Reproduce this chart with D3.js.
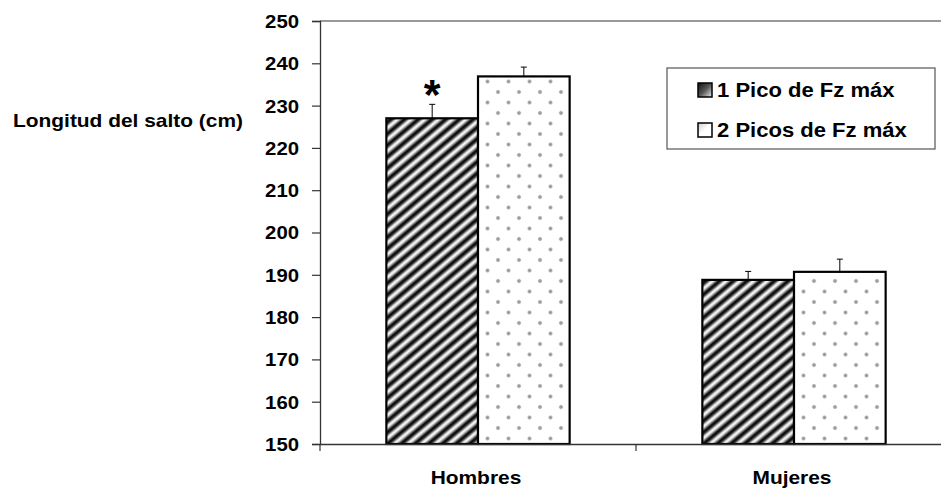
<!DOCTYPE html>
<html>
<head>
<meta charset="utf-8">
<script src="https://cdn.jsdelivr.net/npm/d3@7"></script>
<style>
  html, body { margin: 0; padding: 0; background: #fff; }
  svg text { font-family: Arial, "Liberation Sans", sans-serif; font-weight: bold; fill: #000; }
</style>
</head>
<body>
<svg id="chart" width="941" height="489"></svg>
<script>
// ---- data ----
const categories = ["Hombres", "Mujeres"];
const seriesNames = ["1 Pico de Fz máx", "2 Picos de Fz máx"];
const pico1 = [227.0, 188.8];
const pico1Err = [3.3, 2.0];
const pico2 = [236.9, 190.7];
const pico2Err = [2.2, 3.0];
const yTicks = [150, 160, 170, 180, 190, 200, 210, 220, 230, 240, 250];
const yLabel = "Longitud del salto (cm)";
const significant = [true, false]; // asterisk over pico1

// ---- layout ----
const svg = d3.select("#chart");
const W = 941, H = 489;
const pLeft = 320, pRight = 952, pTop = 21, pBottom = 444;
const STRETCH = 1.13;

function stretch(sel) {
  sel.each(function () {
    const w = this.getComputedTextLength();
    this.setAttribute("textLength", w * STRETCH);
    this.setAttribute("lengthAdjust", "spacingAndGlyphs");
  });
  return sel;
}

const y = d3.scaleLinear().domain([150, 250]).range([pBottom, pTop]);
const x = d3.scaleBand().domain(categories).range([pLeft, pRight]).padding(0);
const x1 = d3.scaleBand().domain(seriesNames)
  .range([x.bandwidth() * 0.21, x.bandwidth() * 0.79]).padding(0);

// ---- patterns ----
const defs = svg.append("defs");
const lg = defs.append("linearGradient").attr("id", "stripeGrad")
  .attr("x1", "0").attr("y1", "0").attr("x2", "1").attr("y2", "0");
lg.append("stop").attr("offset", "0").attr("stop-color", "#fff");
lg.append("stop").attr("offset", "0.12").attr("stop-color", "#f6f6f6");
lg.append("stop").attr("offset", "0.5").attr("stop-color", "#0a0a0a");
lg.append("stop").attr("offset", "0.68").attr("stop-color", "#1a1a1a");
lg.append("stop").attr("offset", "1").attr("stop-color", "#fff");
const hatch = defs.append("pattern").attr("id", "hatch")
  .attr("patternUnits", "userSpaceOnUse").attr("width", 8.8).attr("height", 20)
  .attr("patternTransform", "rotate(50)");
hatch.append("rect").attr("width", 8.8).attr("height", 20).attr("fill", "url(#stripeGrad)");

const rg = defs.append("radialGradient").attr("id", "dotGrad");
rg.append("stop").attr("offset", "0").attr("stop-color", "#8c8c8c");
rg.append("stop").attr("offset", "0.5").attr("stop-color", "#b0b0b0");
rg.append("stop").attr("offset", "1").attr("stop-color", "#fff").attr("stop-opacity", 0);
const dots = defs.append("pattern").attr("id", "dots")
  .attr("patternUnits", "userSpaceOnUse").attr("width", 21).attr("height", 21)
  .attr("x", 0).attr("y", 0);
dots.append("rect").attr("width", 21).attr("height", 21).attr("fill", "#fff");
dots.append("circle").attr("cx", 10).attr("cy", 8).attr("r", 3).attr("fill", "url(#dotGrad)");
dots.append("circle").attr("cx", 20.5).attr("cy", 18.5).attr("r", 3).attr("fill", "url(#dotGrad)");
dots.append("circle").attr("cx", -0.5).attr("cy", 18.5).attr("r", 3).attr("fill", "url(#dotGrad)");

const legG = defs.append("linearGradient").attr("id", "legHatch")
  .attr("x1", "0").attr("y1", "0").attr("x2", "1").attr("y2", "1");
legG.append("stop").attr("offset", "0").attr("stop-color", "#111");
legG.append("stop").attr("offset", "0.5").attr("stop-color", "#555");
legG.append("stop").attr("offset", "1").attr("stop-color", "#eee");
const legD = defs.append("linearGradient").attr("id", "legDots")
  .attr("x1", "0").attr("y1", "0").attr("x2", "1").attr("y2", "1");
legD.append("stop").attr("offset", "0").attr("stop-color", "#ccc");
legD.append("stop").attr("offset", "0.5").attr("stop-color", "#fff");
legD.append("stop").attr("offset", "1").attr("stop-color", "#fff");

const fills = ["url(#hatch)", "url(#dots)"];
const legFills = ["url(#legHatch)", "url(#legDots)"];

// ---- frame ----
svg.append("line").attr("x1", pLeft).attr("x2", W).attr("y1", pTop).attr("y2", pTop)
  .attr("stroke", "#777").attr("stroke-width", 1.5);

// ---- bars ----
const rows = categories.map((c, i) => ({
  cat: c,
  vals: [
    { s: seriesNames[0], v: pico1[i], e: pico1Err[i], sig: significant[i] },
    { s: seriesNames[1], v: pico2[i], e: pico2Err[i], sig: false }
  ]
}));

const g = svg.append("g");
const grp = g.selectAll("g.cat").data(rows).join("g")
  .attr("class", "cat")
  .attr("transform", d => `translate(${x(d.cat)},0)`);

// error bars (upward only)
grp.selectAll("g.err").data(d => d.vals).join("g").attr("class", "err")
  .each(function (d) {
    const gg = d3.select(this);
    const cx = x1(d.s) + x1.bandwidth() / 2;
    gg.append("line").attr("x1", cx).attr("x2", cx)
      .attr("y1", y(d.v)).attr("y2", y(d.v + d.e))
      .attr("stroke", "#000").attr("stroke-width", 1);
    gg.append("line").attr("x1", cx - 3).attr("x2", cx + 3)
      .attr("y1", y(d.v + d.e)).attr("y2", y(d.v + d.e))
      .attr("stroke", "#000").attr("stroke-width", 1);
  });

grp.selectAll("rect.bar").data(d => d.vals).join("rect")
  .attr("class", "bar")
  .attr("x", d => x1(d.s))
  .attr("y", d => y(d.v))
  .attr("width", x1.bandwidth())
  .attr("height", d => y(150) - y(d.v))
  .attr("fill", (d, i) => fills[i])
  .attr("stroke", "#000").attr("stroke-width", 2.2);

// significance asterisk
grp.selectAll("text.sig").data(d => d.vals.filter(v => v.sig)).join("text")
  .attr("class", "sig")
  .attr("x", d => x1(d.s) + x1.bandwidth() / 2)
  .attr("y", d => y(d.v + d.e) - 28)
  .attr("dy", "0.75em")
  .attr("text-anchor", "middle")
  .style("font-size", "43px")
  .text("*");

// ---- axes ----
const yAxis = svg.append("g").attr("transform", `translate(${pLeft},0)`)
  .call(d3.axisLeft(y).tickValues(yTicks).tickSize(8).tickPadding(13).tickFormat(d3.format("d")));
yAxis.attr("font-family", null).attr("font-size", null);
yAxis.select(".domain").attr("stroke", "#333").attr("stroke-width", 1.3);
yAxis.selectAll(".tick line").attr("stroke", "#333").attr("stroke-width", 1.2);
yAxis.selectAll(".tick text").style("font-size", "18px")
  .attr("dy", "0.36em").call(stretch);

const xAxis = svg.append("g").attr("transform", `translate(0,${pBottom})`)
  .call(d3.axisBottom(x).tickSize(0).tickPadding(0).tickFormat(() => ""));
xAxis.select(".domain").attr("stroke", "#333").attr("stroke-width", 1.3);
// tick marks at category boundaries
svg.append("g").selectAll("line").data([pLeft, ...categories.map(c => x(c) + x.bandwidth())]).join("line")
  .attr("x1", d => d).attr("x2", d => d).attr("y1", pBottom).attr("y2", pBottom + 7)
  .attr("stroke", "#333").attr("stroke-width", 1.2);
svg.append("g").selectAll("text").data(categories).join("text")
  .attr("x", d => x(d) + x.bandwidth() / 2 - 2)
  .attr("y", 484)
  .attr("text-anchor", "middle")
  .style("font-size", "18.5px")
  .text(d => d).call(stretch);

// y label
svg.append("text").attr("x", 13).attr("y", 127)
  .style("font-size", "18.5px").text(yLabel).call(stretch);

// ---- legend ----
const leg = svg.append("g");
leg.append("rect").attr("x", 667).attr("y", 68).attr("width", 268).attr("height", 81)
  .attr("fill", "#fff").attr("stroke", "#555").attr("stroke-width", 1.2);
const li = leg.selectAll("g.li").data(seriesNames).join("g").attr("class", "li")
  .attr("transform", (d, i) => `translate(0,${97 + i * 40})`);
li.append("rect").attr("x", 698).attr("y", -14).attr("width", 14).attr("height", 14)
  .attr("fill", (d, i) => legFills[i]).attr("stroke", "#000").attr("stroke-width", 1.5);
li.append("text").attr("x", 717).attr("y", 0).style("font-size", "19.5px")
  .text(d => d).call(stretch);
</script>
</body>
</html>
